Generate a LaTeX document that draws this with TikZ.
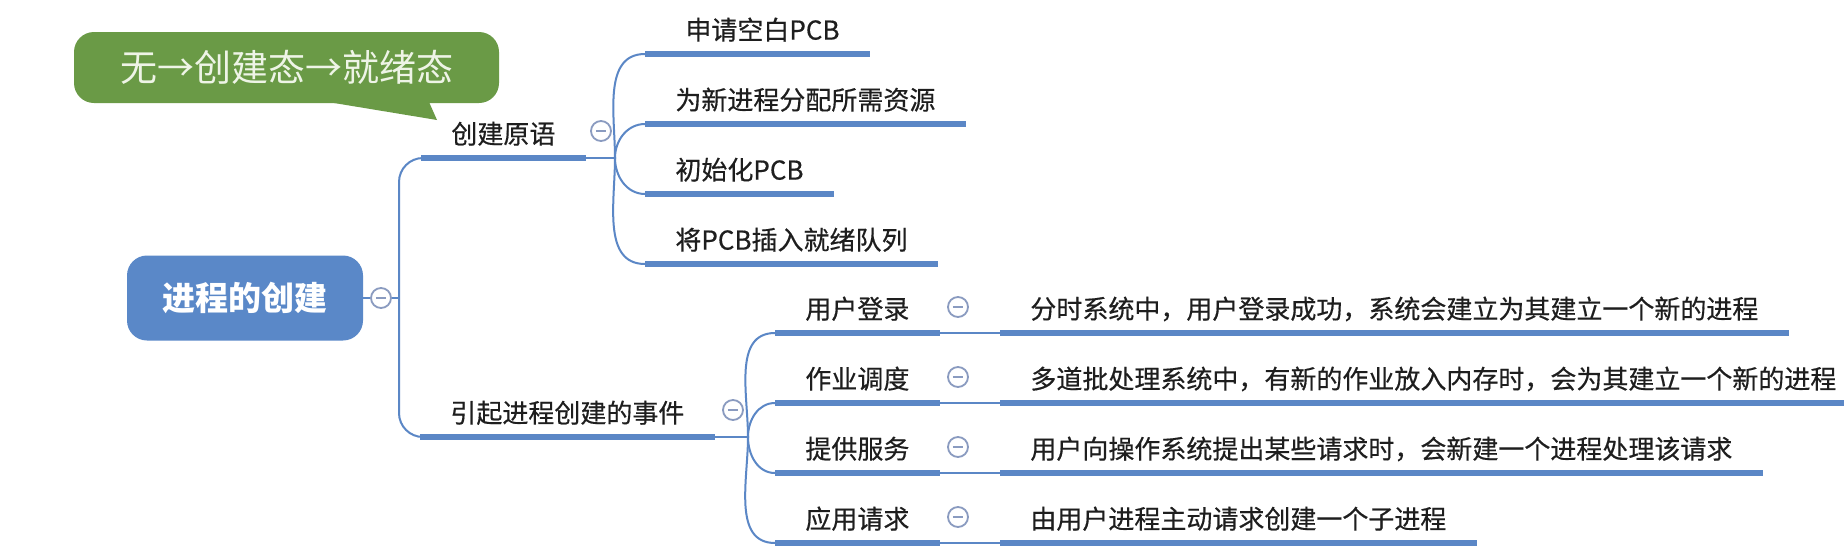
\documentclass[tikz,border=0pt]{standalone}
\usepackage{fontspec}
\setmainfont{Noto Sans CJK SC}
\newfontfamily\labfont[FakeBold=0.45]{Noto Sans CJK SC}
\definecolor{lineblue}{HTML}{5B87C6}
\definecolor{rootblue}{HTML}{5A88C8}
\definecolor{callgreen}{HTML}{6A9A46}
\definecolor{calltext}{HTML}{EEF4E6}
\definecolor{circ}{HTML}{8A9BC0}
\definecolor{txt}{HTML}{1E1E1E}
\begin{document}
\begin{tikzpicture}[x=0.5pt,y=-0.5pt,
  thinl/.style={draw=lineblue, line width=1pt},
  uline/.style={draw=lineblue, line width=2.6pt},
  lab/.style={anchor=south west, inner xsep=15pt, inner ysep=5pt, text height=11.5pt, text depth=2pt, text=txt, font=\labfont\fontsize{13pt}{15pt}\selectfont},
  rootn/.style={fill=rootblue, rounded corners=10pt, minimum width=118pt, minimum height=42.5pt, text=white, font=\fontsize{16.5pt}{19pt}\selectfont\bfseries},
  coll/.style={circle, draw=circ, fill=white, line width=0.9pt, minimum size=10pt, inner sep=0pt,
    path picture={\draw[circ, line width=0.8pt] ([xshift=-2.6pt]path picture bounding box.center) -- ([xshift=2.6pt]path picture bounding box.center);}},
  calltxt/.style={text=calltext, font=\fontsize{18.5pt}{22pt}\selectfont}
]
\clip (0,0) rectangle (1844,547);
\fill[white] (0,0) rectangle (1844,547);

% callout
\fill[callgreen, rounded corners=10] (74,32) rectangle (499,103);
\fill[callgreen] (328,102) -- (429,102) -- (437,120) -- cycle;
\node[calltxt] (cl) at (287,67) {无→创建态→就绪态};

% root
\node[rootn] (root) at (245,298) {进程的创建};
\node[coll] (c0) at (381,298) {};
\coordinate (tr) at (399,298);
\coordinate (tb) at (399,437);
\draw[thinl] (root) -- (c0);
\draw[thinl] (c0) -- (tr);

% level 1
\node[lab] (pr) at (421,158) {创建原语};
\node[lab] (ev) at (420,437) {引起进程创建的事件};
\draw[uline] (pr.south west) -- (pr.south east);
\draw[uline] (ev.south west) -- (ev.south east);
\draw[thinl, rounded corners=12] (pr.south west) -| (tb) -- (ev.south west);

% creation primitives
\node[coll] (cp) at (601,131) {};
\coordinate (jp) at (615,158);
\draw[thinl] (pr.south east) -- (jp);
\node[lab] (a1) at (645,54) {\hspace{5pt}申请空白PCB};
\node[lab] (a2) at (645,124) {为新进程分配所需资源};
\node[lab] (a3) at (645,194) {初始化PCB};
\node[lab] (a4) at (645,264) {将PCB插入就绪队列};
\foreach \n in {a1,a2,a3,a4} \draw[uline] (\n.south west) -- (\n.south east);
\draw[thinl] (jp) to[out=90,in=180] (a1.south west);
\draw[thinl] (jp) to[out=90,in=180] (a2.south west);
\draw[thinl] (jp) to[out=-90,in=180] (a3.south west);
\draw[thinl] (jp) to[out=-90,in=180] (a4.south west);

% events
\node[coll] (ce) at (733,410) {};
\coordinate (je) at (748,437);
\draw[thinl] (ev.south east) -- (je);
\node[lab] (r1) at (775,333) {用户登录};
\node[lab] (r2) at (775,403) {作业调度};
\node[lab] (r3) at (775,473) {提供服务};
\node[lab] (r4) at (775,543) {应用请求};
\node[coll] (k1) at (958,307) {};
\node[coll] (k2) at (958,377) {};
\node[coll] (k3) at (958,447) {};
\node[coll] (k4) at (958,517) {};
\node[lab] (d1) at (1000,333) {分时系统中，用户登录成功，系统会建立为其建立一个新的进程};
\node[lab] (d2) at (1000,403) {多道批处理系统中，有新的作业放入内存时，会为其建立一个新的进程};
\node[lab] (d3) at (1000,473) {用户向操作系统提出某些请求时，会新建一个进程处理该请求};
\node[lab] (d4) at (1000,543) {由用户进程主动请求创建一个子进程};
\foreach \n in {r1,r2,r3,r4,d1,d2,d3,d4} \draw[uline] (\n.south west) -- (\n.south east);
\foreach \i in {1,2,3,4} \draw[thinl] (r\i.south east) -- (d\i.south west);
\draw[thinl] (je) to[out=90,in=180] (r1.south west);
\draw[thinl] (je) to[out=90,in=180] (r2.south west);
\draw[thinl] (je) to[out=-90,in=180] (r3.south west);
\draw[thinl] (je) to[out=-90,in=180] (r4.south west);
\end{tikzpicture}
\end{document}
